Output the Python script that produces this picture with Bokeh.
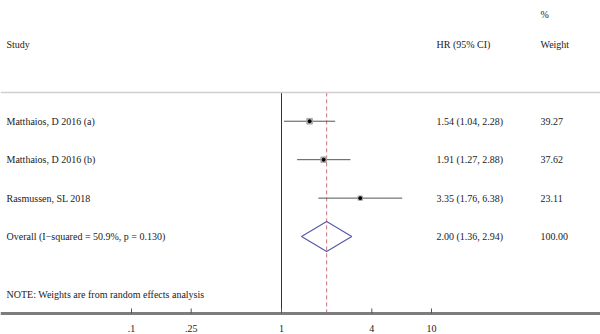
import math
from bokeh.plotting import figure
from bokeh.models import Range1d, LinearScale, ColumnDataSource, Span
from bokeh.core.properties import value
from bokeh.embed import file_html
from bokeh.resources import INLINE

# ---- data ----
studies = ["Matthaios, D 2016 (a)", "Matthaios, D 2016 (b)", "Rasmussen, SL 2018"]
hr = [1.54, 1.91, 3.35]
ci_low = [1.04, 1.27, 1.76]
ci_high = [2.28, 2.88, 6.38]
weights = [39.27, 37.62, 23.11]

overall_label = "Overall (I\u2212squared = 50.9%, p = 0.130)"
overall_hr = 2.00
overall_low = 1.36
overall_high = 2.94
overall_weight = 100.00

tick_values = [0.1, 0.25, 1, 4, 10]
tick_labels = [".1", ".25", "1", "4", "10"]
note_text = "NOTE: Weights are from random effects analysis"

# ---- layout constants ----
W, H = 600, 334
X_ONE = 281.0        # pixel of HR = 1
PX_DECADE = 150.0    # pixels per decade
FONT = "Liberation Serif"
FS = "10px"
Y_TOP = -3.14
ROW_PX = 38.45
Y_BOTTOM = Y_TOP + H / ROW_PX
AXIS_ROW = 5.0
TICK_LABEL_ROW = 5.39

rows = list(range(len(studies)))
overall_row = len(studies)
note_row = overall_row + 1.5
top_row = -0.75

x0, x1 = 10 ** (-X_ONE / PX_DECADE), 10 ** ((W - X_ONE) / PX_DECADE)
p = figure(width=W, height=H, output_backend="svg", toolbar_location=None,
           x_axis_type="log",
           x_range=Range1d(x0, x1),
           y_range=Range1d(Y_BOTTOM, Y_TOP),
           min_border_left=0, min_border_right=0, min_border_top=0, min_border_bottom=0)
p.outline_line_color = None
p.background_fill_color = "white"
p.border_fill_color = "white"
p.grid.visible = False
p.xaxis.visible = False
p.yaxis.visible = False

p.extra_x_ranges = {"px": Range1d(0, W)}
p.extra_x_scales = {"px": LinearScale()}

# top separator line
p.add_layout(Span(location=top_row, dimension="width", line_color="#cfcfcf", line_width=1.5))

# null line at 1 and overall dashed line
p.segment(x0=[1], y0=[top_row], x1=[1], y1=[AXIS_ROW], line_color="#333333", line_width=1)
p.segment(x0=[overall_hr], y0=[top_row], x1=[overall_hr], y1=[AXIS_ROW],
          line_color="#c9727c", line_width=1, line_dash="4 3")

# bottom axis rule, tick marks and tick labels
p.segment(x0=[x0], y0=[AXIS_ROW], x1=[x1], y1=[AXIS_ROW], line_color="#7d7d7d", line_width=3)
p.segment(x0=tick_values, y0=[AXIS_ROW] * len(tick_values), x1=tick_values,
          y1=[AXIS_ROW - 0.13] * len(tick_values), line_color="#555555", line_width=1)
p.text(x=tick_values, y=[TICK_LABEL_ROW] * len(tick_values), text=tick_labels,
       text_font=value(FONT), text_font_size=FS, text_color="#222222",
       text_baseline="middle", text_align="center")

# study CIs and markers
src = ColumnDataSource(dict(y=rows, hr=hr, lo=ci_low, hi=ci_high,
                            box=[math.sqrt(w) * 0.9 for w in weights]))
p.segment(x0="lo", y0="y", x1="hi", y1="y", source=src, line_color="#555555", line_width=1)
p.scatter(x="hr", y="y", size="box", marker="square", source=src,
          fill_color="#a9a9a9", line_color="#a9a9a9")
p.scatter(x="hr", y="y", size=3, marker="circle", source=src,
          fill_color="black", line_color="black")

# overall diamond
dh = 0.39
p.patch(x=[overall_low, overall_hr, overall_high, overall_hr],
        y=[overall_row, overall_row - dh, overall_row, overall_row + dh],
        fill_color=None, line_color="#5a5aa8", line_width=1.2)

# text columns
col_study, col_hr, col_w = 6, 436, 540
hr_texts = [f"{a:.2f} ({b:.2f}, {c:.2f})" for a, b, c in zip(hr, ci_low, ci_high)]
hr_texts.append(f"{overall_hr:.2f} ({overall_low:.2f}, {overall_high:.2f})")
w_texts = [f"{w:.2f}" for w in weights] + [f"{overall_weight:.2f}"]
labels = studies + [overall_label]
yrows = rows + [overall_row]

txt = dict(text_font=value(FONT), text_font_size=FS, text_color="#222222",
           text_baseline="middle", text_align="left", x_range_name="px")

p.text(x=[col_study] * len(labels), y=yrows, text=labels, **txt)
p.text(x=[col_hr] * len(hr_texts), y=yrows, text=hr_texts, **txt)
p.text(x=[col_w] * len(w_texts), y=yrows, text=w_texts, **txt)

# headers
p.text(x=[col_study, col_hr, col_w, col_w], y=[-2, -2, -2, -2.78],
       text=["Study", "HR (95% CI)", "Weight", "%"], **txt)

# note
p.text(x=[col_study], y=[note_row], text=[note_text], **txt)

open("out.html", "w").write(file_html(p, INLINE))
